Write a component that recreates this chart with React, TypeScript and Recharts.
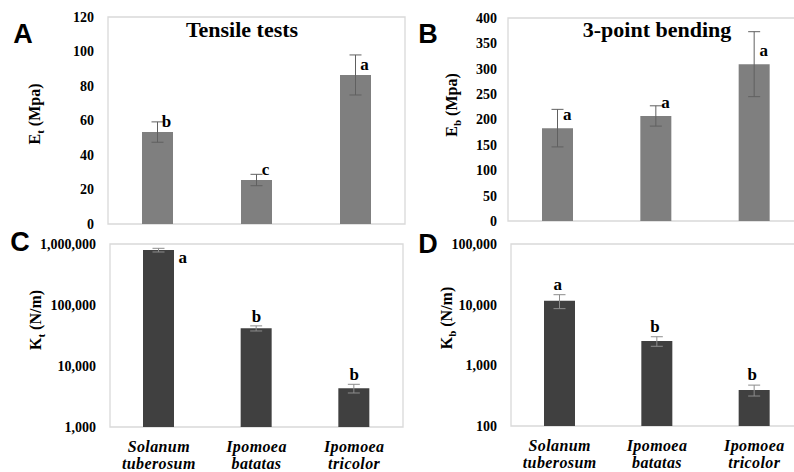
import React from "react";
import {
  ComposedChart,
  Bar,
  Line,
  XAxis,
  YAxis,
  ErrorBar,
  LabelList,
  ReferenceArea,
} from "recharts";

// ---------- data ----------
const species = ["Solanum tuberosum", "Ipomoea batatas", "Ipomoea tricolor"];

const tensileModulus = [53.3, 25.5, 86.4];
const tensileModulusErr = [5.9, 3.3, 11.6];
const tensileModulusLetters = ["b", "c", "a"];

const bendingModulus = [183, 207, 309];
const bendingModulusErr = [37, 20, 64];
const bendingModulusLetters = ["a", "a", "a"];

const tensileStiffness = [795000, 41500, 4310];
const tensileStiffnessErr = [55000, 4000, 700];
const tensileStiffnessLetters = ["a", "b", "b"];

const bendingStiffness = [11600, 2510, 392];
const bendingStiffnessErr = [3000, 450, 80];
const bendingStiffnessLetters = ["a", "b", "b"];

const ticksA = [0, 20, 40, 60, 80, 100, 120];
const ticksB = [0, 50, 100, 150, 200, 250, 300, 350, 400];
const ticksC = [1000, 10000, 100000, 1000000];
const ticksD = [100, 1000, 10000, 100000];

// ---------- styles ----------
const SERIF = "'Liberation Serif', 'Times New Roman', serif";
const SANS = "'Liberation Sans', Arial, sans-serif";

const SpeciesTick = (props: any) => {
  const { x, y, payload } = props;
  const words = String(payload.value).split(" ");
  return (
    <g>
      {words.map((w: string, i: number) => (
        <text
          key={i}
          x={x}
          y={y + 25 + i * 17}
          textAnchor="middle"
          fontFamily={SERIF}
          fontStyle="italic"
          fontWeight="bold"
          fontSize={16}
          letterSpacing={0.4}
          fill="#000"
        >
          {w}
        </text>
      ))}
    </g>
  );
};

type PanelCfg = {
  left: number;
  top: number;
  width: number;
  height: number;
  margin: { top: number; right: number; bottom: number; left: number };
  yWidth: number;
  tickMargin: number;
  showX: boolean;
  xHeight: number;
  log: boolean;
  domain: [number, number];
  ticks: number[];
  values: number[];
  errs: number[];
  letters: string[];
  color: string;
  errColor: string;
  anchorOnTop: boolean;
  letterOffset: (i: number) => { dx: number; dy: number };
};

function Panel({ cfg }: { cfg: PanelCfg }) {
  const data = species.map((name, i) => ({
    name,
    value: cfg.values[i],
    err: cfg.errs[i],
    letter: cfg.letters[i],
    anchor: cfg.anchorOnTop ? cfg.values[i] + cfg.errs[i] : cfg.values[i],
  }));

  const renderLetter = (p: any) => {
    const px = p.x ?? p.viewBox?.x;
    const py = p.y ?? p.viewBox?.y;
    const { dx, dy } = cfg.letterOffset(p.index);
    return (
      <text
        x={px + dx}
        y={py + dy}
        textAnchor="middle"
        fontFamily={SERIF}
        fontWeight="bold"
        fontSize={17}
        fill="#000"
      >
        {p.value}
      </text>
    );
  };

  return (
    <div style={{ position: "absolute", left: cfg.left, top: cfg.top }}>
      <ComposedChart
        width={cfg.width}
        height={cfg.height}
        data={data}
        margin={cfg.margin}
      >
        <XAxis
          dataKey="name"
          hide={!cfg.showX}
          height={cfg.xHeight}
          axisLine={false}
          tickLine={false}
          tickSize={0}
          tickMargin={0}
          interval={0}
          tick={<SpeciesTick />}
        />
        <YAxis
          type="number"
          scale={cfg.log ? "log" : "linear"}
          domain={cfg.domain}
          ticks={cfg.ticks}
          allowDataOverflow
          interval={0}
          width={cfg.yWidth}
          axisLine={false}
          tickLine={false}
          tickSize={0}
          tickMargin={cfg.tickMargin}
          tick={{
            fill: "#000",
            fontSize: 14,
            fontWeight: 700,
            fontFamily: SERIF,
          }}
          tickFormatter={(v: number) =>
            cfg.log ? v.toLocaleString("en-US") : String(v)
          }
        />
        <ReferenceArea
          y1={cfg.domain[0]}
          y2={cfg.domain[1]}
          fill="none"
          stroke="#d9d9d9"
          strokeWidth={1.3}
          ifOverflow="visible"
        />
        <Bar
          dataKey="value"
          fill={cfg.color}
          barSize={31}
          isAnimationActive={false}
        >
          <ErrorBar
            dataKey="err"
            width={6}
            stroke={cfg.errColor}
            strokeWidth={1}
          />
        </Bar>
        <Line
          dataKey="anchor"
          stroke="none"
          dot={false}
          activeDot={false}
          isAnimationActive={false}
        >
          <LabelList dataKey="letter" content={renderLetter} />
        </Line>
      </ComposedChart>
    </div>
  );
}

const panelA: PanelCfg = {
  left: 0,
  top: 0,
  width: 420,
  height: 235,
  margin: { top: 17, right: 15, bottom: 11, left: 0 },
  yWidth: 108,
  tickMargin: 14,
  showX: false,
  xHeight: 0,
  log: false,
  domain: [0, 120],
  ticks: ticksA,
  values: tensileModulus,
  errs: tensileModulusErr,
  letters: tensileModulusLetters,
  color: "#7f7f7f",
  errColor: "#606060",
  anchorOnTop: false,
  letterOffset: () => ({ dx: 9, dy: -5 }),
};

const panelB: PanelCfg = {
  left: 400,
  top: 0,
  width: 420,
  height: 235,
  margin: { top: 18, right: 17, bottom: 14, left: 0 },
  yWidth: 108,
  tickMargin: 11,
  showX: false,
  xHeight: 0,
  log: false,
  domain: [0, 400],
  ticks: ticksB,
  values: bendingModulus,
  errs: bendingModulusErr,
  letters: bendingModulusLetters,
  color: "#7f7f7f",
  errColor: "#606060",
  anchorOnTop: false,
  letterOffset: () => ({ dx: 10, dy: -8 }),
};

const panelC: PanelCfg = {
  left: 0,
  top: 235,
  width: 420,
  height: 237,
  margin: { top: 9, right: 17, bottom: 0, left: 0 },
  yWidth: 110,
  tickMargin: 14,
  showX: true,
  xHeight: 45,
  log: true,
  domain: [1000, 1000000],
  ticks: ticksC,
  values: tensileStiffness,
  errs: tensileStiffnessErr,
  letters: tensileStiffnessLetters,
  color: "#404040",
  errColor: "#8c8c8c",
  anchorOnTop: true,
  letterOffset: (i) => (i === 0 ? { dx: 24, dy: 15 } : { dx: 0, dy: -4 }),
};

const panelD: PanelCfg = {
  left: 400,
  top: 235,
  width: 420,
  height: 237,
  margin: { top: 9, right: 17, bottom: 0, left: 0 },
  yWidth: 111,
  tickMargin: 14,
  showX: true,
  xHeight: 46,
  log: true,
  domain: [100, 100000],
  ticks: ticksD,
  values: bendingStiffness,
  errs: bendingStiffnessErr,
  letters: bendingStiffnessLetters,
  color: "#404040",
  errColor: "#8c8c8c",
  anchorOnTop: true,
  letterOffset: () => ({ dx: -2, dy: -5 }),
};

const AxisTitle = ({
  x,
  y,
  main,
  sub,
  rest,
}: {
  x: number;
  y: number;
  main: string;
  sub: string;
  rest: string;
}) => (
  <text
    transform={`translate(${x},${y}) rotate(-90)`}
    textAnchor="middle"
    fontFamily={SERIF}
    fontWeight="bold"
    fontSize={16}
    fill="#000"
  >
    {main}
    <tspan fontSize={11} dy={4}>
      {sub}
    </tspan>
    <tspan dy={-4}>{rest}</tspan>
  </text>
);

export default function App() {
  return (
    <div
      style={{
        position: "absolute",
        left: 0,
        top: 0,
        width: 794,
        height: 472,
        overflow: "hidden",
        background: "#fff",
      }}
    >
      <Panel cfg={panelA} />
      <Panel cfg={panelB} />
      <Panel cfg={panelC} />
      <Panel cfg={panelD} />
      <svg
        width={794}
        height={472}
        style={{ position: "absolute", left: 0, top: 0, pointerEvents: "none" }}
      >
        <g fontFamily={SANS} fontWeight="bold" fontSize={27} fill="#000" textAnchor="middle">
          <text x={23} y={43}>A</text>
          <text x={428} y={43}>B</text>
          <text x={20} y={251}>C</text>
          <text x={428} y={253}>D</text>
        </g>
        <g fontFamily={SERIF} fontWeight="bold" fontSize={22} fill="#000" textAnchor="middle">
          <text x={242} y={37}>Tensile tests</text>
          <text x={657} y={37}>3-point bending</text>
        </g>
        <AxisTitle x={40} y={114} main="E" sub="t" rest=" (Mpa)" />
        <AxisTitle x={457} y={105} main="E" sub="b" rest=" (Mpa)" />
        <AxisTitle x={41} y={320} main="K" sub="t" rest=" (N/m)" />
        <AxisTitle x={452} y={318} main="K" sub="b" rest=" (N/m)" />
      </svg>
    </div>
  );
}
